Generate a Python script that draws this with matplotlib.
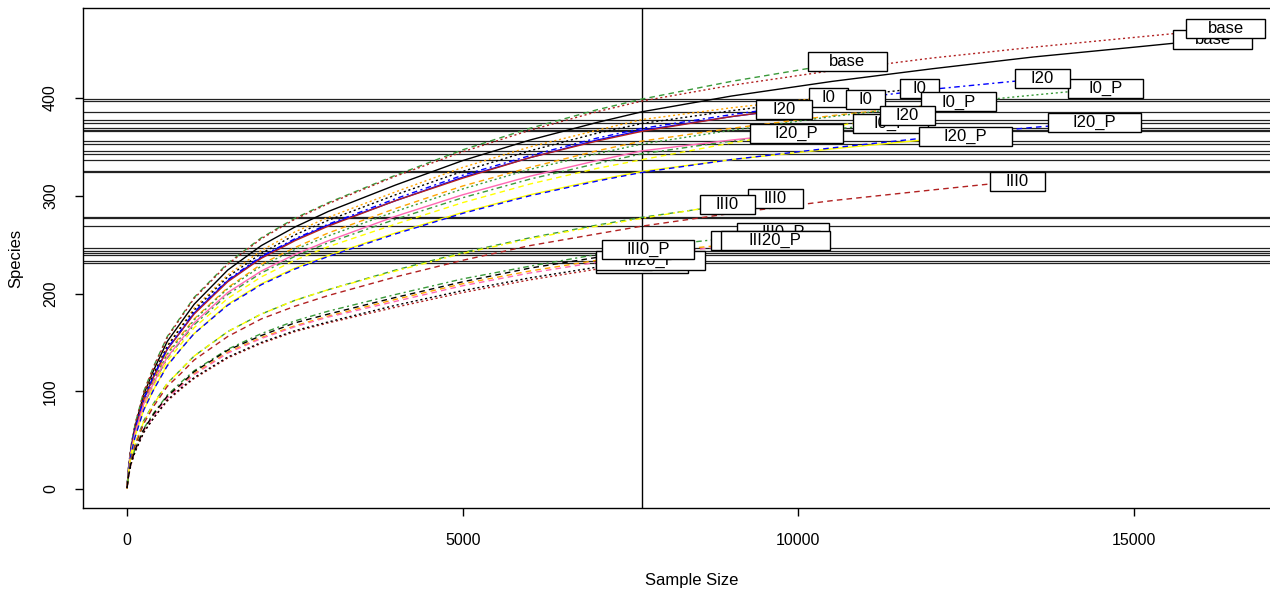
import matplotlib
matplotlib.use("Agg")
import matplotlib.pyplot as plt
from matplotlib.patches import Rectangle
from matplotlib.transforms import IdentityTransform

plt.rcParams['font.family'] = ['Liberation Sans', 'DejaVu Sans']

# sample sizes where every curve is read (up to the smallest sample, 7675)
grid = [1, 20, 60, 120, 250, 400, 600, 800, 1000, 1500, 2000, 2500, 3000, 4000, 5000, 6000, 7000, 7675]

# species counts on the grid, then the rest of each curve as (size, species) up to its end
base_c = [1, 19, 42, 64, 97, 122, 151, 170, 189, 224, 249, 268, 284, 311, 336, 357, 375, 386]
base_c_tail = [(9000, 402), (10500, 417), (12000, 430), (13500, 442), (15000, 452), (16170, 460)]
base_a = [1, 20, 44, 66, 100, 126, 156, 176, 196, 231, 257, 277, 293, 321, 347, 369, 388, 399]
base_a_tail = [(9000, 417), (10730, 437)]
base_b = [1, 20, 44, 66, 99, 125, 155, 175, 195, 230, 256, 276, 292, 320, 345, 367, 386, 397]
base_b_tail = [(9000, 413), (10500, 428), (12000, 441), (13500, 452), (15000, 462), (16364, 471)]
i0_a = [1, 19, 42, 62, 95, 119, 147, 166, 185, 219, 244, 263, 278, 304, 329, 350, 367, 378]
i0_a_tail = [(9000, 390), (10447, 401)]
i0_c = [1, 18, 40, 61, 92, 116, 143, 161, 180, 213, 237, 255, 270, 295, 319, 339, 357, 367]
i0_c_tail = [(9000, 381), (10500, 394), (11000, 398)]
i0_b = [1, 19, 41, 62, 94, 118, 146, 165, 183, 217, 241, 260, 275, 301, 325, 346, 364, 374]
i0_b_tail = [(9000, 387), (10500, 400), (11803, 410)]
i0p_c = [1, 17, 38, 57, 86, 108, 134, 151, 168, 199, 221, 238, 252, 276, 298, 317, 333, 343]
i0p_c_tail = [(9000, 356), (10500, 368), (11371, 374)]
i0p_b = [1, 18, 39, 59, 89, 112, 139, 157, 174, 206, 230, 247, 262, 287, 310, 329, 346, 356]
i0p_b_tail = [(9000, 369), (10500, 382), (12000, 393), (12384, 396)]
i0p_a = [1, 18, 39, 58, 88, 111, 138, 155, 173, 205, 228, 245, 259, 284, 307, 327, 343, 353]
i0p_a_tail = [(9000, 367), (10500, 381), (12000, 393), (13500, 403), (14575, 410)]
i20_b = [1, 18, 40, 60, 92, 115, 143, 161, 179, 212, 236, 254, 269, 295, 318, 339, 356, 366]
i20_b_tail = [(9000, 381), (9791, 388)]
i20_c = [1, 17, 37, 56, 84, 106, 131, 148, 165, 195, 217, 234, 248, 271, 293, 312, 328, 337]
i20_c_tail = [(9000, 354), (10500, 371), (11624, 382)]
i20_a = [1, 18, 41, 61, 92, 116, 144, 162, 181, 214, 238, 256, 271, 297, 321, 341, 359, 369]
i20_a_tail = [(9000, 383), (10500, 397), (12000, 409), (13636, 420)]
i20p_a = [1, 17, 38, 57, 87, 109, 135, 152, 170, 201, 223, 240, 254, 279, 301, 320, 336, 346]
i20p_a_tail = [(9000, 357), (9970, 364)]
i20p_b = [1, 16, 36, 54, 81, 102, 127, 143, 159, 189, 210, 226, 239, 262, 283, 301, 316, 325]
i20p_b_tail = [(9000, 337), (10500, 348), (12000, 358), (12489, 361)]
i20p_c = [1, 16, 36, 53, 81, 102, 126, 143, 159, 188, 209, 225, 238, 261, 282, 300, 315, 324]
i20p_c_tail = [(9000, 337), (10500, 349), (12000, 360), (13500, 370), (14411, 375)]
iii0_a = [1, 14, 31, 46, 70, 88, 108, 122, 136, 161, 179, 193, 204, 224, 242, 257, 270, 278]
iii0_a_tail = [(9000, 291), (9657, 297)]
iii0_b = [1, 14, 30, 46, 69, 87, 108, 122, 136, 161, 179, 193, 204, 223, 241, 256, 269, 277]
iii0_b_tail = [(8300, 284), (8942, 291)]
iii0_c = [1, 13, 30, 44, 67, 85, 105, 118, 132, 156, 174, 187, 198, 217, 234, 249, 261, 269]
iii0_c_tail = [(9000, 282), (10500, 295), (12000, 306), (13264, 315)]
iii0p_c = [1, 12, 25, 38, 58, 73, 90, 102, 113, 134, 149, 161, 170, 186, 201, 214, 225, 231]
iii0p_c_tail = []
iii0p_a = [1, 12, 27, 41, 62, 78, 96, 109, 121, 143, 159, 172, 182, 199, 215, 228, 240, 247]
iii0p_a_tail = [(9000, 257), (9776, 262)]
iii20p_a = [1, 12, 27, 40, 60, 76, 94, 106, 118, 140, 155, 167, 177, 194, 210, 223, 234, 241]
iii20p_a_tail = [(8500, 247), (9508, 254)]
iii20p_b = [1, 12, 26, 39, 60, 75, 93, 105, 117, 139, 154, 166, 176, 192, 208, 221, 232, 239]
iii20p_b_tail = [(9000, 249), (9657, 254)]
iii20p_c = [1, 12, 26, 38, 58, 73, 91, 103, 114, 135, 150, 162, 171, 188, 203, 216, 227, 233]
iii20p_c_tail = [(7794, 234)]
iii0p_b = [1, 12, 27, 40, 61, 77, 95, 107, 120, 142, 157, 170, 179, 196, 212, 226, 237, 244]
iii0p_b_tail = [(7765, 245)]

curves = [base_c, base_a, base_b, i0_a, i0_c, i0_b, i0p_c, i0p_b, i0p_a,
          i20_b, i20_c, i20_a, i20p_a, i20p_b, i20p_c, iii0_a, iii0_b, iii0_c,
          iii0p_c, iii0p_a, iii20p_a, iii20p_b, iii20p_c, iii0p_b]
tails = [base_c_tail, base_a_tail, base_b_tail, i0_a_tail, i0_c_tail, i0_b_tail,
         i0p_c_tail, i0p_b_tail, i0p_a_tail, i20_b_tail, i20_c_tail, i20_a_tail,
         i20p_a_tail, i20p_b_tail, i20p_c_tail, iii0_a_tail, iii0_b_tail, iii0_c_tail,
         iii0p_c_tail, iii0p_a_tail, iii20p_a_tail, iii20p_b_tail, iii20p_c_tail, iii0p_b_tail]
labels = ["base", "base", "base", "I0", "I0", "I0", "I0_P", "I0_P", "I0_P",
          "I20", "I20", "I20", "I20_P", "I20_P", "I20_P", "III0", "III0", "III0",
          "III0_P", "III0_P", "III20_P", "III20_P", "III20_P", "III0_P"]
colors = ["black", "#3a9a3a", "#b22222", "orange", "blue", "black", "#3a9a3a", "orange", "#3a9a3a",
          "#b22222", "yellow", "blue", "hotpink", "yellow", "blue", "#3a9a3a", "yellow", "#b22222",
          "#b22222", "#3a9a3a", "orange", "hotpink", "black", "black"]
styles = ["solid", "dashed", "dotted", "dotted", "solid", "dotted", "dotdash", "dashed", "dotted",
          "solid", "dashed", "dotdash", "solid", "solid", "dashed", "dashed", "dotdash", "dashed",
          "dotted", "dotdash", "dashed", "dashed", "dotted", "dashed"]

dash = {"solid": "-", "dashed": (0, (4, 3)), "dotted": (0, (1.5, 2)),
        "dotdash": (0, (1.5, 2.5, 4, 2.5))}

fig = plt.figure(figsize=(12.7, 5.9), dpi=100)
ax = fig.add_axes([83 / 1270, 82 / 590, (1300 - 83) / 1270, 500 / 590])
ax.set_xlim(-655, 17471)
ax.set_ylim(-19.4, 492.1)

# rarefied richness at the smallest sample size
ends = [(grid + [p[0] for p in t])[-1] for t in tails]
ax.axvline(min(ends), color="black", lw=1, zorder=2)
for c in curves:
    ax.axhline(c[-1], color="#222222", lw=0.9, zorder=1)

for c, t, col, ls in zip(curves, tails, colors, styles):
    xs = grid + [p[0] for p in t]
    ys = c + [p[1] for p in t]
    ax.plot(xs, ys, color=col, linestyle=dash[ls], lw=1.0, zorder=3)

texts = []
for i, (c, t, lab) in enumerate(zip(curves, tails, labels)):
    x = t[-1][0] if t else grid[-1]
    y = t[-1][1] if t else c[-1]
    texts.append(ax.text(x, y, lab, ha="center", va="center", fontsize=12,
                         zorder=11 + 2 * i, clip_on=False))

fig.canvas.draw()
for i, txt in enumerate(texts):
    bb = txt.get_window_extent()
    cx, cy = ax.transData.transform(txt.get_position())
    w = 1.8 * bb.width + 14
    h = 19
    ax.add_patch(Rectangle((cx - w / 2, cy - h / 2), w, h, transform=IdentityTransform(),
                           facecolor="white", edgecolor="black", lw=1,
                           zorder=10 + 2 * i, clip_on=False))

ax.set_xticks([0, 5000, 10000, 15000])
ax.set_yticks([0, 100, 200, 300, 400])
ax.tick_params(direction="out", length=6, width=1, labelsize=11.5, pad=12)
for lab in ax.get_yticklabels():
    lab.set_rotation(90)
    lab.set_va("center")
for s in ax.spines.values():
    s.set_linewidth(1)
ax.set_xlabel("Sample Size", fontsize=12, labelpad=18)
ax.set_ylabel("Species", fontsize=12, labelpad=14)

fig.savefig("out.png", dpi=100)
